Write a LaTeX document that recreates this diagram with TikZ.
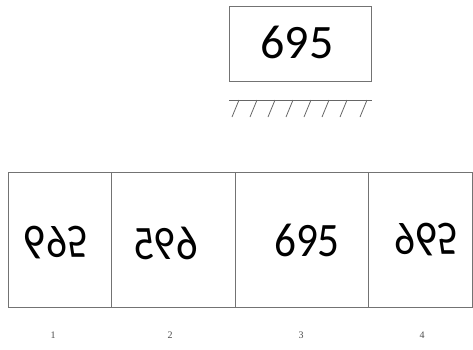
\documentclass[tikz,border=0pt]{standalone}
\usepackage{fontspec}
\newfontfamily\digitfont{Carlito}
\newfontfamily\labelfont{Liberation Serif}
\begin{document}
\begin{tikzpicture}[x=1pt,y=-1pt,
  boxline/.style={draw=black!55, line width=0.9pt},
  cell/.style={boxline, minimum height=135pt, inner sep=0pt, anchor=north west},
  big/.style={font=\digitfont\fontsize{48}{50}\selectfont, inner sep=0pt},
  mid/.style={font=\digitfont\fontsize{48}{50}\selectfont, inner sep=0pt},
  lab/.style={font=\labelfont\fontsize{10}{11}\selectfont, text=black!70, inner sep=0pt}]
\useasboundingbox (0,0) rectangle (473,349);
% top object
\node[boxline, minimum width=142pt, minimum height=75pt, inner sep=0pt] (obj) at (300,43.5) {};
\node[big] (objt) at (297,42) {695};
% mirror
\coordinate (m1) at (229,100);
\coordinate (m2) at (372,100);
\draw[black!60, line width=0.8pt] (m1) -- (m2);
\foreach \x in {239,257,275,293,311,329,347,367}
  \draw[black!60, line width=0.8pt] (\x,100) -- (\x-7,117);
% option cells
\node[cell, minimum width=103pt] (c1) at (8,172) {};
\node[cell, minimum width=124pt] (c2) at (111,172) {};
\node[cell, minimum width=133pt] (c3) at (235,172) {};
\node[cell, minimum width=104pt] (c4) at (368,172) {};
% option texts
\node[mid] (t1) at (56,243) {\scalebox{0.9}[-1]{695}};
\node[mid] (t2) at (166,243) {\scalebox{-0.9}[1]{695}};
\node[mid] (t3) at (307,240) {\scalebox{0.9}[1]{695}};
\node[mid] (t4) at (426,240) {\scalebox{0.9}[-1]{965}};
% labels
\node[lab] (l1) at (53,335) {1};
\node[lab] (l2) at (170,335) {2};
\node[lab] (l3) at (301,335) {3};
\node[lab] (l4) at (422,335) {4};
\end{tikzpicture}
\end{document}
